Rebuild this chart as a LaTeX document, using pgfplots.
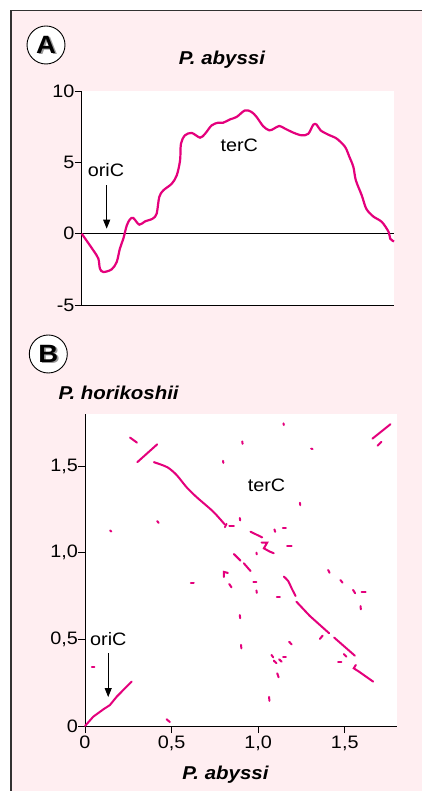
\documentclass[border=0pt]{standalone}
\usepackage{fontspec}
\setmainfont{Liberation Sans}[FakeStretch=1.1]
\usepackage{pgfplots}
\pgfplotsset{compat=1.18}
\usetikzlibrary{arrows.meta}
\definecolor{bgpink}{RGB}{255,238,241}
\definecolor{mag}{RGB}{228,0,124}
\definecolor{frame}{RGB}{50,50,50}
\newcommand{\lab}{\fontsize{18}{20}\selectfont}
\pgfplotsset{seg/.style={mag, line width=2pt, line cap=round, mark=none}}
\begin{document}
\begin{tikzpicture}[every node/.style={font=\lab}]
\useasboundingbox (0pt,0pt) rectangle (422pt,791pt);
\fill[white] (0pt,0pt) rectangle (422pt,791pt);
\fill[bgpink] (11pt,0pt) rectangle (422pt,780.5pt);
\draw[line width=1.3pt, frame] (11pt,0pt) -- (11pt,780.5pt) -- (422pt,780.5pt);

% ---------- Panel A ----------
\begin{axis}[
  at={(81.7pt,486pt)}, anchor=south west,
  scale only axis, width=312.3pt, height=214pt,
  xmin=0, xmax=1.8, ymin=-5, ymax=10,
  axis x line*=bottom, axis y line*=left,
  axis line style={line width=0.9pt, black, -},
  xtick=\empty, ytick={-5,0,5,10}, yticklabels={-5,0,5,10},
  tick align=outside, major tick length=7pt,
  tick style={line width=0.9pt, black},
  tick label style={font=\lab, inner sep=0pt},
  axis background/.style={fill=white},
  clip=false,
]
\addplot[black, line width=0.8pt, mark=none] coordinates {(0,0) (1.8,0)};
\addplot[mag, line width=2.2pt, smooth, tension=0.5, mark=none] coordinates {
(0,0) (0.067,-1.17) (0.096,-1.75) (0.105,-2.45) (0.125,-2.69) (0.173,-2.5)
(0.202,-1.98) (0.22,-1.05) (0.24,-0.35) (0.26,0.58) (0.278,1.0) (0.297,1.1)
(0.332,0.63) (0.365,0.86) (0.409,1.05) (0.432,1.4) (0.447,2.57) (0.47,3.03)
(0.519,3.5) (0.548,4.09) (0.567,5.14) (0.572,6.3) (0.595,6.89) (0.634,7.06)
(0.682,6.73) (0.711,7.0) (0.749,7.59) (0.787,7.78) (0.816,7.78) (0.855,8.01)
(0.893,8.18) (0.941,8.64) (0.979,8.53) (1.008,8.18) (1.046,7.53) (1.081,7.24)
(1.108,7.36) (1.139,7.55) (1.172,7.36) (1.22,7.08) (1.268,6.89) (1.306,7.0)
(1.335,7.64) (1.354,7.64) (1.377,7.24) (1.421,6.94) (1.47,6.66) (1.518,6.08)
(1.543,5.38) (1.566,4.67) (1.58,3.74) (1.614,2.69) (1.64,1.75) (1.68,1.21)
(1.73,0.82) (1.769,0.12) (1.778,-0.35) (1.8,-0.55)};
\node at (axis cs:0.14,4.44) {oriC};
\node at (axis cs:0.908,6.19) {terC};
\draw[line width=0.9pt, -{Triangle[length=9pt,width=7pt]}] (axis cs:0.144,3.38) -- (axis cs:0.144,0.35);
\end{axis}

% ---------- Panel B ----------
\begin{axis}[
  at={(85pt,65pt)}, anchor=south west,
  scale only axis, width=311.7pt, height=312pt,
  xmin=0, xmax=1.8, ymin=0, ymax=1.8,
  axis x line*=bottom, axis y line*=left,
  axis line style={line width=0.9pt, black, -},
  xtick={0,0.5,1,1.5}, xticklabels={0,{0,5},{1,0},{1,5}},
  ytick={0,0.5,1,1.5}, yticklabels={0,{0,5},{1,0},{1,5}},
  tick align=outside, major tick length=7pt,
  tick style={line width=0.9pt, black},
  tick label style={font=\lab, inner sep=0pt},
  xticklabel style={yshift=-3pt},
  axis background/.style={fill=white},
  clip=false,
]
\addplot[seg] coordinates {(0,0) (0.048,0.054) (0.106,0.096) (0.144,0.121) (0.183,0.169) (0.269,0.256)};
\addplot[seg] coordinates {(0.26,1.664) (0.30,1.635)};
\addplot[seg] coordinates {(0.302,1.522) (0.417,1.625)};
\addplot[seg, smooth] coordinates {(0.398,1.522) (0.475,1.493) (0.529,1.448) (0.587,1.377) (0.645,1.32) (0.74,1.237) (0.805,1.165)};
\addplot[seg] coordinates {(0.417,1.182) (0.425,1.172)};
\addplot[seg] coordinates {(0.145,1.128) (0.152,1.122)};
\addplot[seg] coordinates {(0.797,1.53) (0.799,1.518)};
\addplot[seg] coordinates {(0.908,1.642) (0.91,1.628)};
\addplot[seg] coordinates {(1.146,1.746) (1.148,1.736)};
\addplot[seg] coordinates {(1.306,1.6) (1.314,1.598)};
\addplot[seg] coordinates {(1.241,1.288) (1.243,1.274)};
\addplot[seg] coordinates {(1.66,1.658) (1.764,1.741)};
\addplot[seg] coordinates {(1.689,1.617) (1.712,1.64)};
\addplot[seg] coordinates {(0.808,1.147) (0.817,1.166)};
\addplot[seg] coordinates {(0.833,1.156) (0.86,1.156)};
\addplot[seg] coordinates {(0.894,1.20) (0.896,1.186)};
\addplot[seg] coordinates {(0.956,1.121) (1.023,1.088)};
\addplot[seg] coordinates {(1.02,1.058) (1.052,1.058) (1.033,1.025) (1.067,1.006) (1.09,0.997)};
\addplot[seg] coordinates {(1.094,1.134) (1.098,1.12)};
\addplot[seg] coordinates {(1.143,1.14) (1.16,1.14)};
\addplot[seg] coordinates {(1.167,1.04) (1.193,1.04)};
\addplot[seg] coordinates {(0.99,1.0) (0.992,0.99)};
\addplot[seg] coordinates {(0.86,0.992) (0.898,0.954)};
\addplot[seg] coordinates {(0.917,0.939) (0.956,0.894)};
\addplot[seg] coordinates {(0.825,0.883) (0.802,0.889) (0.802,0.86)};
\addplot[seg] coordinates {(0.833,0.819) (0.846,0.8)};
\addplot[seg] coordinates {(0.972,0.833) (0.99,0.833)};
\addplot[seg] coordinates {(0.99,0.782) (0.992,0.768)};
\addplot[seg] coordinates {(1.108,0.742) (1.125,0.742)};
\addplot[seg, smooth] coordinates {(1.148,0.862) (1.173,0.837) (1.193,0.795) (1.216,0.75)};
\addplot[seg] coordinates {(1.221,0.717) (1.298,0.635) (1.41,0.535)};
\addplot[seg] coordinates {(1.439,0.51) (1.558,0.406)};
\addplot[seg] coordinates {(1.564,0.352) (1.552,0.333) (1.583,0.313) (1.664,0.256)};
\addplot[seg] coordinates {(1.356,0.502) (1.372,0.521)};
\addplot[seg] coordinates {(1.495,0.415) (1.51,0.4)};
\addplot[seg] coordinates {(1.462,0.371) (1.481,0.371)};
\addplot[seg] coordinates {(1.404,0.9) (1.412,0.884)};
\addplot[seg] coordinates {(1.475,0.842) (1.487,0.827)};
\addplot[seg] coordinates {(1.548,0.785) (1.56,0.766)};
\addplot[seg] coordinates {(1.597,0.775) (1.621,0.775)};
\addplot[seg] coordinates {(1.591,0.692) (1.593,0.673)};
\addplot[seg] coordinates {(1.179,0.486) (1.193,0.471)};
\addplot[seg] coordinates {(1.077,0.41) (1.087,0.396)};
\addplot[seg] coordinates {(1.09,0.377) (1.106,0.362)};
\addplot[seg] coordinates {(1.121,0.385) (1.135,0.371)};
\addplot[seg] coordinates {(1.144,0.4) (1.16,0.4)};
\addplot[seg] coordinates {(1.11,0.304) (1.118,0.281)};
\addplot[seg] coordinates {(0.612,0.823) (0.628,0.823)};
\addplot[seg] coordinates {(0.894,0.64) (0.896,0.622)};
\addplot[seg] coordinates {(0.901,0.468) (0.903,0.448)};
\addplot[seg] coordinates {(1.063,0.168) (1.065,0.145)};
\addplot[seg] coordinates {(0.039,0.339) (0.054,0.339)};
\addplot[seg] coordinates {(0.471,0.039) (0.49,0.023)};
\node at (axis cs:1.048,1.39) {terC};
\node at (axis cs:0.135,0.5) {oriC};
\draw[black, line width=0.9pt, -{Triangle[length=9pt,width=7pt]}] (axis cs:0.134,0.42) -- (axis cs:0.134,0.167);
\end{axis}

% ---------- titles and panel letters ----------
\node[anchor=base, font=\fontsize{18.6}{20}\selectfont\bfseries\itshape] at (222pt,726pt) {P. abyssi};
\node[anchor=base west, font=\fontsize{18.6}{20}\selectfont\bfseries\itshape] at (55pt,391pt) {P. horikoshii};
\node[anchor=base, font=\fontsize{18.6}{20}\selectfont\bfseries\itshape] at (225.5pt,11pt) {P. abyssi};

\node[circle, draw=black, line width=0.9pt, fill=white, minimum size=38pt, inner sep=0pt] at (46pt,746pt) {};
\node[font=\fontsize{25}{26}\selectfont\bfseries, text=black!40] at (47.8pt,744.6pt) {A};
\node[font=\fontsize{25}{26}\selectfont\bfseries] at (46pt,746pt) {A};
\node[circle, draw=black, line width=0.9pt, fill=white, minimum size=38pt, inner sep=0pt] at (48.3pt,437pt) {};
\node[font=\fontsize{25}{26}\selectfont\bfseries, text=black!40] at (50.1pt,435.6pt) {B};
\node[font=\fontsize{25}{26}\selectfont\bfseries] at (48.3pt,437pt) {B};
\end{tikzpicture}
\end{document}
